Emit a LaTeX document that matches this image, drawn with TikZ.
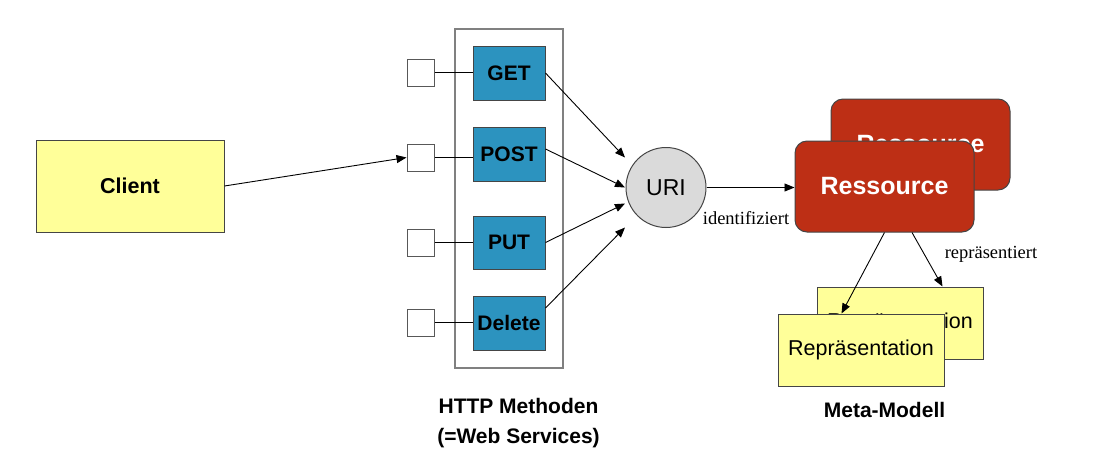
\documentclass[tikz,border=0pt]{standalone}
\usepackage{fontspec}
\setmainfont{Liberation Sans}
\newfontfamily\seriffont{Liberation Serif}
\usetikzlibrary{arrows.meta,calc}
\definecolor{cyellow}{HTML}{FFFF99}
\definecolor{cblue}{HTML}{2C93BF}
\definecolor{cred}{HTML}{BD2F15}
\definecolor{cgray}{HTML}{DADADA}
\definecolor{cedge}{HTML}{454545}
\begin{document}
\begin{tikzpicture}[x=1pt,y=-1pt,
  base/.style={draw=cedge, line width=1pt, inner sep=0pt},
  yellowbox/.style={base, fill=cyellow, font=\fontsize{21.5}{25}\selectfont},
  methodbox/.style={base, fill=cblue, minimum width=72pt, minimum height=54pt, font=\fontsize{21}{25}\selectfont\bfseries},
  port/.style={base, draw=cedge!90, fill=white, minimum width=27pt, minimum height=27pt},
  container/.style={draw=gray, line width=1.2pt, inner sep=0pt, minimum width=108pt, minimum height=339pt},
  resbox/.style={base, fill=cred, rounded corners=12pt, minimum width=179pt, minimum height=91pt, text=white, font=\fontsize{25}{30}\selectfont\bfseries},
  repbox/.style={yellowbox, minimum width=166pt, minimum height=72pt},
  uricircle/.style={base, fill=cgray, circle, minimum size=80pt, font=\fontsize{23}{27}\selectfont},
  conn/.style={line width=0.9pt},
  arr/.style={conn, -{Triangle[length=10pt,width=8pt]}},
  lbl/.style={font=\seriffont\fontsize{18.5}{22}\selectfont, inner sep=0pt},
  caption/.style={font=\fontsize{21}{30}\selectfont\bfseries, align=center, inner sep=0pt}
]
\useasboundingbox (0,0) rectangle (1093,456);

% Client
\node[yellowbox, minimum width=188pt, minimum height=92pt, font=\fontsize{21.5}{25}\selectfont\bfseries] (client) at (130,186) {Client};

% methods container
\node[container] (methods) at (509,198.5) {};

% method boxes
\node[methodbox] (get) at (509,73) {GET};
\node[methodbox] (post) at (509,154) {POST};
\node[methodbox, minimum height=53pt] (put) at (509,242.5) {PUT};
\node[methodbox] (del) at (509,323) {Delete};

% ports
\node[port] (pget) at (420.5,72.5) {};
\node[port] (ppost) at (420.5,157.5) {};
\node[port] (pput) at (420.5,242.5) {};
\node[port] (pdel) at (420.5,322.5) {};

\draw[conn] (pget.east) -- (pget.east -| get.west);
\draw[conn] (ppost.east) -- (ppost.east -| post.west);
\draw[conn] (pput.east) -- (pput.east -| put.west);
\draw[conn] (pdel.east) -- (pdel.east -| del.west);

% client arrow
\draw[arr] (client.east) -- (ppost.west);

% URI
\node[uricircle] (uri) at (666,187.5) {URI};
\coordinate (tget) at ($(uri.center)+(-41,-30)$);
\coordinate (tpost) at ($(uri.center)+(-41,0)$);
\coordinate (tput) at ($(uri.center)+(-41,16)$);
\coordinate (tdel) at ($(uri.center)+(-41,40)$);
\draw[arr] (get.east) -- (tget);
\draw[arr] ($(post.east)+(0,-5)$) -- (tpost);
\draw[arr] (put.east) -- (tput);
\draw[arr] ($(del.east)+(0,-15)$) -- (tdel);

% Ressource
\node[resbox] (res2) at (920.5,144.5) {Ressource};
\node[resbox] (res1) at (884.5,186.5) {Ressource};
\draw[arr] (uri.east) -- (uri.east -| res1.west);
\node[lbl] (ident) at (746,218) {identifiziert};

% Representations
\node[repbox] (rep2) at (900,323) {Repräsentation};
\node[repbox] (rep1) at (861,350) {Repräsentation};
\draw[arr] (res1.south) -- ($(rep1.north west)+(64,0)$);
\draw[arr] ($(res1.south)+(27.5,0)$) -- ($(rep2.north west)+(126,0)$);
\node[lbl] (repr) at (991,254) {repräsentiert};

% captions
\node[caption] (capm) at (518.5,423) {HTTP Methoden\\(=Web Services)};
\node[caption] (capmm) at (884.5,410) {Meta-Modell};
\end{tikzpicture}
\end{document}
